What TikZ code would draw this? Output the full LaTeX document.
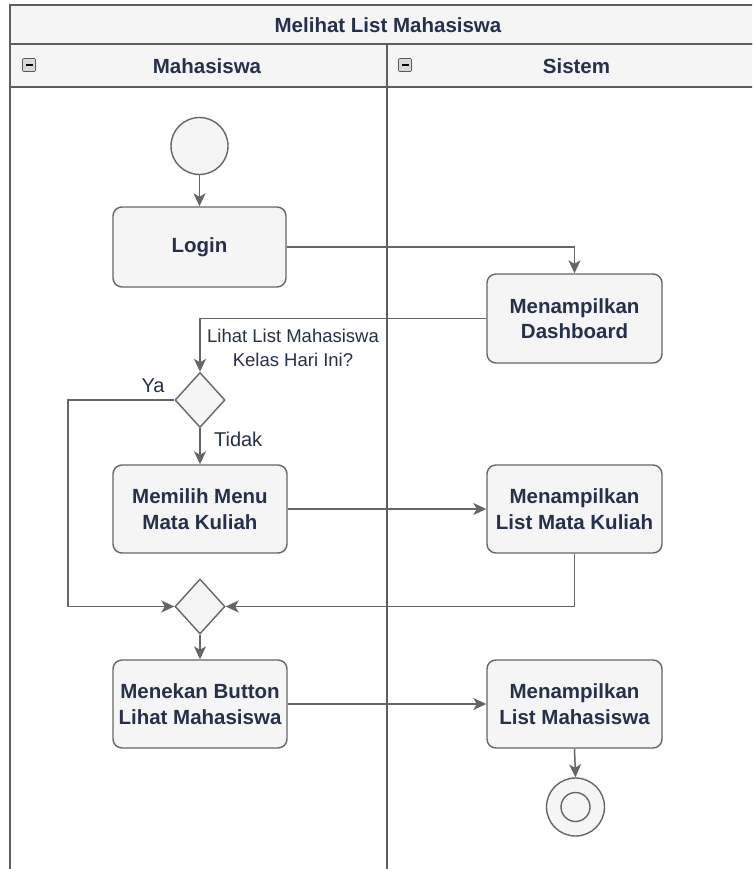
\documentclass[tikz,border=0pt]{standalone}
\usepackage{fontspec}
\setmainfont{Liberation Sans}
\usetikzlibrary{shapes.geometric,arrows.meta,positioning}

\definecolor{boxfill}{HTML}{F5F5F5}
\definecolor{boxline}{HTML}{666666}
\definecolor{laneline}{HTML}{5E5E5E}
\definecolor{ink}{HTML}{26304A}

\tikzset{
  every node/.style={text=ink},
  action/.style={draw=boxline, fill=boxfill, line width=1.4pt, rounded corners=9pt,
    minimum width=174pt, minimum height=88pt, align=center, inner sep=0pt,
    font=\fontsize{20.5}{25.5}\selectfont\bfseries},
  choice/.style={draw=boxline, fill=boxfill, line width=1.4pt, shape=diamond,
    minimum width=50pt, minimum height=55pt, inner sep=0pt},
  startnode/.style={draw=boxline, fill=boxfill, line width=1.4pt, circle,
    minimum size=57pt, inner sep=0pt},
  flow/.style={draw=boxline, line width=1.5pt,
    -{Stealth[length=13pt, width=12pt, inset=3.5pt]}},
  guard/.style={font=\fontsize{20}{23}\selectfont},
  lanehead/.style={font=\fontsize{20.5}{23}\selectfont\bfseries},
  frame/.style={draw=laneline, line width=1.8pt},
  collapse/.style={draw=gray!70!black, fill=gray!30, line width=0.6pt, rounded corners=1pt}
}

\begin{document}
\begin{tikzpicture}[x=1pt, y=-1pt]
  \useasboundingbox (0,0) rectangle (752,869);
  \clip (0,0) rectangle (752,869);
  \fill[white] (0,0) rectangle (752,869);

  % pool: title row, lane headers, lane bodies
  \path[frame, fill=boxfill] (10,5) rectangle (766,44);
  \path[frame, fill=boxfill] (10,44) rectangle (766,87);
  \path[frame] (10,87) rectangle (387,900);
  \path[frame] (387,44) -- (387,900);
  \node[lanehead] (pool) at (388,25) {Melihat List Mahasiswa};
  \node[lanehead] (laneA) at (207,66) {Mahasiswa};
  \node[lanehead] (laneB) at (576.5,66) {Sistem};

  % collapse markers in the lane headers
  \foreach \cx in {29,405} {
    \draw[collapse] (\cx-6.5,58.5) rectangle (\cx+6.5,71.5);
    \draw[black, line width=1.6pt] (\cx-3.5,65) -- (\cx+3.5,65);
  }

  % activities
  \node[startnode] (start) at (199.5,146) {};
  \node[action, minimum width=173pt, minimum height=80pt] (login) at (199.5,247) {Login};
  \node[action, minimum width=175pt, minimum height=89pt] (dash) at (574.5,318.5) {Menampilkan\\Dashboard};
  \node[choice] (dec) at (200,400) {};
  \node[action] (memilih) at (200,509) {Memilih Menu\\Mata Kuliah};
  \node[action, minimum width=175pt] (listmk) at (574.5,509) {Menampilkan\\List Mata Kuliah};
  \node[choice] (merge) at (200,606.5) {};
  \node[action] (menekan) at (200,704) {Menekan Button\\Lihat Mahasiswa};
  \node[action, minimum width=175pt] (listmhs) at (574.5,704) {Menampilkan\\List Mahasiswa};
  \node[startnode, minimum size=58pt] (stop) at (575.5,807) {};
  \node[draw=boxline, line width=1.4pt, circle, minimum size=29pt, inner sep=0pt] (stopin) at (stop.center) {};

  \coordinate (yaTurn) at (68,400);

  % control flow
  \draw[flow] (start) -- (login);
  \draw[flow] (login.east) -| (dash.north);
  \draw[flow] (dash.west) -| (dec.north)
    node[pos=0.5, below=7pt, align=center, xshift=93pt,
         font=\fontsize{18.5}{24}\selectfont]
      (question) {Lihat List Mahasiswa\\Kelas Hari Ini?};
  \draw[flow] (dec.south) -- (memilih.north)
    node[pos=0.3, right=10pt, guard] (tidak) {Tidak};
  \draw[flow] (dec.west) -- (yaTurn) |- (merge.west);
  \node[guard] (ya) at (153,386) {Ya};
  \draw[flow] (memilih.east) -- (listmk.west);
  \draw[flow] (listmk.south) |- (merge.east);
  \draw[flow] (merge.south) -- (menekan.north);
  \draw[flow] (menekan.east) -- (listmhs.west);
  \draw[flow] (listmhs.south) -- (stop.north);
\end{tikzpicture}
\end{document}
